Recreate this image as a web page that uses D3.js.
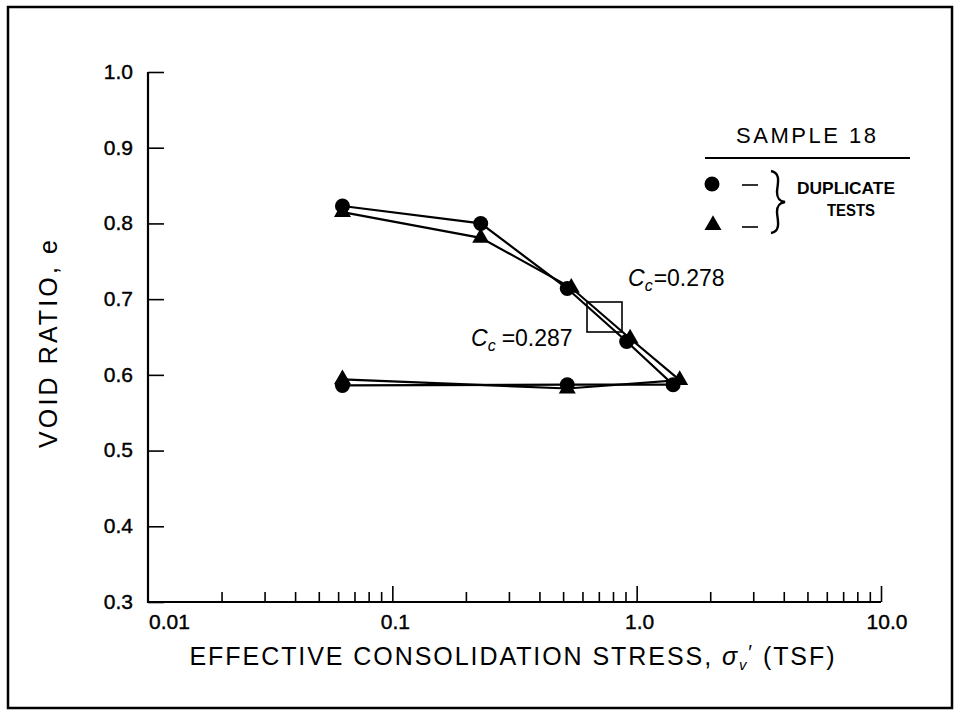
<!DOCTYPE html>
<html><head><meta charset="utf-8">
<script src="https://cdn.jsdelivr.net/npm/d3@7"></script>
<style>body{margin:0;background:#fff}svg{display:block}text{font-family:"Liberation Sans",Arial,sans-serif;fill:#000}</style>
</head><body>
<svg id="c" width="961" height="717"></svg>
<script>
// ---- data ----
const stressCircle   = [0.0625, 0.23, 0.52, 0.91, 1.41, 0.52, 0.0625];
const voidCircle     = [0.823, 0.800, 0.714, 0.644, 0.587, 0.587, 0.586];
const stressTriangle = [0.0625, 0.23, 0.54, 0.94, 1.50, 0.52, 0.0625];
const voidTriangle   = [0.815, 0.781, 0.715, 0.648, 0.593, 0.582, 0.594];
const xMajorTicks = [0.01, 0.1, 1, 10];
const xTickLabels = ["0.01", "0.1", "1.0", "10.0"];
const yTicks = [0.3, 0.4, 0.5, 0.6, 0.7, 0.8, 0.9, 1.0];
const yTickLabels = ["0.3", "0.4", "0.5", "0.6", "0.7", "0.8", "0.9", "1.0"];
const ccLabels = ["0.278", "0.287"];
const legendTitle = "SAMPLE 18";
const legendNote = ["DUPLICATE", "TESTS"];

const svg = d3.select("#c");
svg.append("rect").attr("x",8).attr("y",7).attr("width",944).attr("height",701)
  .attr("fill","none").attr("stroke","#000").attr("stroke-width",2.5);

const x = d3.scaleLog().domain([0.01, 10]).range([148, 881]);
const y = d3.scaleLinear().domain([0.3, 1.0]).range([602, 72]);

const xAll = [];
[0.01, 0.1, 1].forEach(d => { for (let k = 1; k <= 9; k++) xAll.push(+(d*k).toPrecision(3)); });
xAll.push(10);
const isMajor = v => xMajorTicks.some(m => Math.abs(m - v) < 1e-9);

const xa = svg.append("g").attr("transform","translate(0,602)")
  .call(d3.axisBottom(x).tickValues(xAll.filter(v => v > 0.01)).tickSize(-10).tickSizeOuter(0).tickFormat(""));
xa.select(".domain").attr("stroke-width",2.2).attr("d","M147,0H881");
xa.selectAll(".tick line").attr("stroke-width",1.6)
  .attr("y2", d => isMajor(d) ? -16 : -10);
svg.append("g").selectAll("text").data(xMajorTicks).join("text")
  .attr("x", (d,i) => i === 0 ? x(d) + 1 : x(d) + (i === 3 ? 6 : 3))
  .attr("y", 629)
  .attr("text-anchor", (d,i) => i === 0 ? "start" : "middle")
  .attr("font-size", 21).attr("stroke","#000").attr("stroke-width",0.4)
  .text((d,i) => xTickLabels[i]);

const ya = svg.append("g").attr("transform","translate(148,0)")
  .call(d3.axisLeft(y).tickValues(yTicks).tickSize(-16).tickSizeOuter(0).tickPadding(15)
    .tickFormat((d,i) => yTickLabels[i]));
ya.select(".domain").attr("stroke-width",2.2).attr("d","M0,72V603");
ya.selectAll(".tick line").attr("stroke-width",1.6);
ya.selectAll(".tick text").attr("font-size",21).attr("font-family","'Liberation Sans',Arial,sans-serif")
  .attr("stroke","#000").attr("stroke-width",0.4).attr("dy","0.30em");

// axis titles
svg.append("text").attr("transform","translate(57,344) rotate(-90)")
  .attr("text-anchor","middle").attr("font-size",25)
  .attr("textLength",208).attr("lengthAdjust","spacing")
  .text("VOID RATIO, e");
const xt = svg.append("text").attr("x",512).attr("y",665).attr("text-anchor","middle")
  .attr("font-size",25).attr("textLength",645).attr("lengthAdjust","spacing");
xt.append("tspan").text("EFFECTIVE CONSOLIDATION STRESS, ");
xt.append("tspan").attr("font-style","italic").text("σ");
xt.append("tspan").attr("font-style","italic").attr("font-size",15).attr("dy",5).text("v");
xt.append("tspan").attr("font-size",20).attr("dy",-11).text("′");
xt.append("tspan").attr("dy",6).text(" (TSF)");

// lines
const line = d3.line().x(d => x(d[0])).y(d => y(d[1]));
const cData = stressCircle.map((s,i) => [s, voidCircle[i]]);
const tData = stressTriangle.map((s,i) => [s, voidTriangle[i]]);
[cData, tData].forEach(dd => svg.append("path").attr("d", line(dd))
  .attr("fill","none").attr("stroke","#000").attr("stroke-width",2.2));

// markers
svg.append("g").selectAll("path").data(tData).join("path")
  .attr("d", d3.symbol().type(d3.symbolTriangle).size(125))
  .attr("transform", d => `translate(${x(d[0])},${y(d[1])})`);
svg.append("g").selectAll("circle").data(cData).join("circle")
  .attr("cx", d => x(d[0])).attr("cy", d => y(d[1])).attr("r", 7.5);

// slope box
svg.append("rect").attr("x",587).attr("y",302).attr("width",35).attr("height",30)
  .attr("fill","none").attr("stroke","#000").attr("stroke-width",1.6);

// Cc labels
function ccText(px, py, val, len) {
  const t = svg.append("text").attr("x",px).attr("y",py).attr("font-size",23);
  t.append("tspan").attr("font-style","italic").text("C");
  t.append("tspan").attr("font-style","italic").attr("font-size",16).attr("dy",5).text("c");
  t.append("tspan").attr("dy",-5).attr("dx",len).text("=" + val);
}
ccText(628, 286, ccLabels[0], 1);
ccText(471, 346, ccLabels[1], 6);

// legend
svg.append("text").attr("x",806).attr("y",143).attr("text-anchor","middle")
  .attr("font-size",22).attr("textLength",140).attr("lengthAdjust","spacing").text(legendTitle);
svg.append("line").attr("x1",705).attr("x2",910).attr("y1",158).attr("y2",158)
  .attr("stroke","#000").attr("stroke-width",1.8);
svg.append("circle").attr("cx",712).attr("cy",184).attr("r",7.5);
svg.append("path").attr("d", d3.symbol().type(d3.symbolTriangle).size(125)())
  .attr("transform","translate(713,225)");
[185, 227].forEach(yy => svg.append("line").attr("x1",742).attr("x2",758).attr("y1",yy).attr("y2",yy)
  .attr("stroke","#000").attr("stroke-width",1.6));
svg.append("path")
  .attr("d","M771,171 C782,173 777,186 777,192 C777,198 779,201 785,202 C779,203 777,206 777,212 C777,218 782,231 771,233")
  .attr("fill","none").attr("stroke","#000").attr("stroke-width",2.4);
svg.append("text").attr("x",846).attr("y",194).attr("text-anchor","middle").attr("font-size",17)
  .attr("font-weight","bold").attr("textLength",98).attr("lengthAdjust","spacingAndGlyphs").text(legendNote[0]);
svg.append("text").attr("x",851).attr("y",216).attr("text-anchor","middle").attr("font-size",17)
  .attr("font-weight","bold").attr("textLength",48).attr("lengthAdjust","spacingAndGlyphs").text(legendNote[1]);
</script>
</body></html>
